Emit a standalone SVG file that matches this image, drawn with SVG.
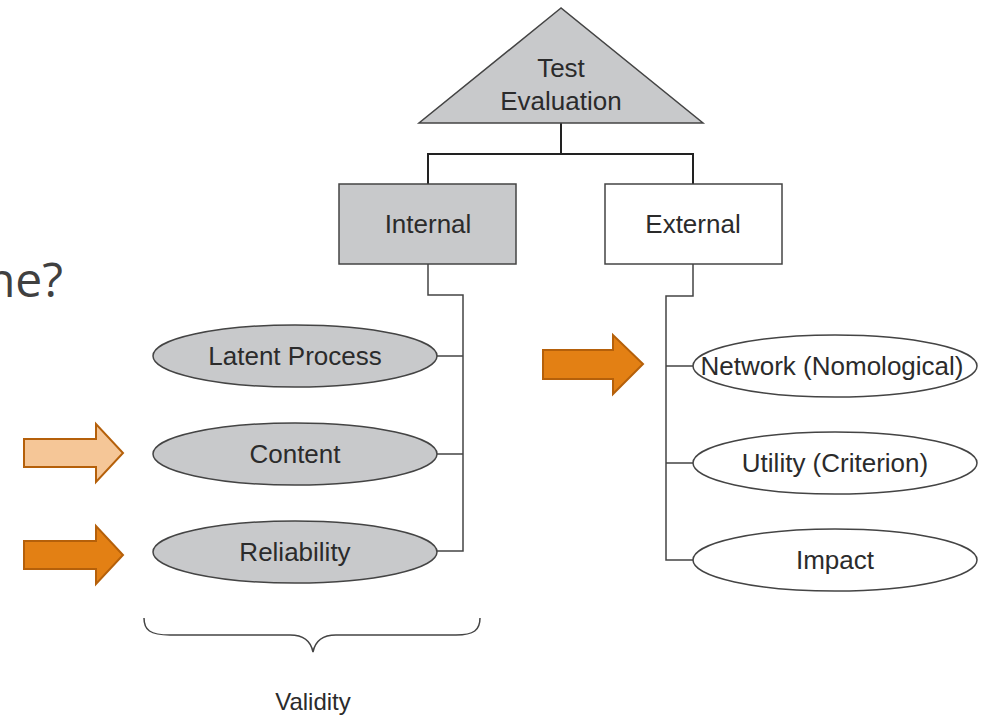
<svg xmlns="http://www.w3.org/2000/svg" width="981" height="717" viewBox="0 0 981 717">
<style>
.t{font-family:"Liberation Sans",Arial,sans-serif;font-size:26px;fill:#2b2b2b;text-anchor:middle}
.g{fill:#c8c9cb;stroke:#444;stroke-width:1.5}
.w{fill:#fff;stroke:#444;stroke-width:1.5}
.c{fill:none;stroke:#444;stroke-width:1.5}
.a1{fill:#f5c697;stroke:#b5600a;stroke-width:2}
.a2{fill:#e38014;stroke:#b5600a;stroke-width:2}
</style>
<rect width="981" height="717" fill="#fff"/>
<text x="63" y="297" style="font-family:'Open Sans',sans-serif;font-size:48px;fill:#404040;text-anchor:end">ne?</text>
<g id="connectors">
<path class="c" d="M561 123V154M428 184V154H693V184" style="stroke:#222;stroke-width:2"/>
<path class="c" d="M428 264V295H463V551H437M463 356H437M463 454H437"/>
<path class="c" d="M693 264V296H666V560H693M666 366H693M666 463H693"/>
</g>
<g id="test-evaluation">
<polygon class="g" points="561,8 419,123 703,123"/>
<text class="t" x="561" y="77">Test</text>
<text class="t" x="561" y="110">Evaluation</text>
</g>
<g id="internal">
<rect class="g" x="339" y="184" width="177" height="80"/>
<text class="t" x="428" y="233">Internal</text>
</g>
<g id="external">
<rect class="w" x="605" y="184" width="177" height="80"/>
<text class="t" x="693" y="233">External</text>
</g>
<g id="latent-process">
<ellipse class="g" cx="295" cy="356" rx="142" ry="31"/>
<text class="t" x="295" y="365">Latent Process</text>
</g>
<g id="content">
<ellipse class="g" cx="295" cy="454" rx="142" ry="31"/>
<text class="t" x="295" y="463">Content</text>
</g>
<g id="reliability">
<ellipse class="g" cx="295" cy="552" rx="142" ry="31"/>
<text class="t" x="295" y="561">Reliability</text>
</g>
<g id="network">
<ellipse class="w" cx="835" cy="366" rx="142" ry="31"/>
<text class="t" x="832" y="375">Network (Nomological)</text>
</g>
<g id="utility">
<ellipse class="w" cx="835" cy="463" rx="142" ry="31"/>
<text class="t" x="835" y="472">Utility (Criterion)</text>
</g>
<g id="impact">
<ellipse class="w" cx="835" cy="560" rx="142" ry="31"/>
<text class="t" x="835" y="569">Impact</text>
</g>
<g id="arrows">
<polygon class="a1" points="24,439 96,439 96,424 123,453 96,482 96,467 24,467"/>
<polygon class="a2" points="24,541 96,541 96,526 123,555 96,584 96,569 24,569"/>
<polygon class="a2" points="543,350 613,350 613,335 643,364 613,394 613,379 543,379"/>
</g>
<g id="validity">
<path class="c" d="M144 618C144 630 150 635 170 635H290C305 635 311 642 313 652C315 642 321 635 336 635H456C474 635 480 630 480 618"/>
<text class="t" x="313" y="710" style="font-size:24px">Validity</text>
</g>
</svg>
